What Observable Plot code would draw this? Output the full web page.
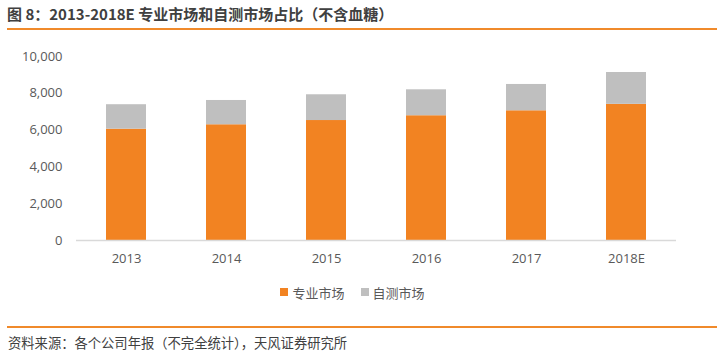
<!DOCTYPE html>
<html>
<head>
<meta charset="utf-8">
<script src="https://cdn.jsdelivr.net/npm/d3@7"></script>
<script src="https://cdn.jsdelivr.net/npm/@observablehq/plot@0.6"></script>
<style>
  html, body { margin: 0; padding: 0; background: #fff; }
  body { width: 717px; height: 358px; overflow: hidden; font-family: "Open Sans", "Noto Sans CJK SC", sans-serif; color: #595959; }
  #title { margin-left: 7px; height: 28px; line-height: 28px; font-size: 15px; font-weight: bold; color: #404040; border-bottom: 2px solid #F08A2B; font-family: "Noto Sans CJK SC", sans-serif; white-space: nowrap; }
  #chart { height: 245px; }
  #legend { height: 34px; display: flex; justify-content: center; align-items: center; font-size: 13px; font-family: "Noto Sans CJK SC", sans-serif; color: #595959; padding-right: 12px; box-sizing: border-box; }
  #legend span.sw { display: inline-block; width: 8px; height: 8px; margin-right: 4px; }
  #legend .item { display: flex; align-items: center; margin: 0 8px; }
  #footer { margin-left: 7px; margin-top: 17px; border-top: 2px solid #F08A2B; height: 30px; line-height: 30px; font-size: 13.3px; color: #404040; font-family: "Noto Sans CJK SC", sans-serif; white-space: nowrap; padding-left: 1px; }
</style>
</head>
<body>
<div id="title">图 8：2013-2018E 专业市场和自测市场占比（不含血糖）</div>
<div id="chart"></div>
<div id="legend"></div>
<div id="footer">资料来源：各个公司年报（不完全统计），天风证券研究所</div>
<script>
const years = ["2013", "2014", "2015", "2016", "2017", "2018E"];
const seriesNames = ["专业市场", "自测市场"];
const professional = [6050, 6290, 6520, 6780, 7050, 7400];
const selfTest = [1330, 1320, 1400, 1410, 1430, 1730];
const yTicks = [0, 2000, 4000, 6000, 8000, 10000];
const colors = ["#F28322", "#BFBFBF"];

const data = [];
years.forEach((y, i) => {
  data.push({year: y, series: seriesNames[0], value: professional[i]});
  data.push({year: y, series: seriesNames[1], value: selfTest[i]});
});

const plot = Plot.plot({
  width: 717,
  height: 245,
  marginTop: 26,
  marginBottom: 35,
  marginLeft: 76,
  marginRight: 41,
  style: {fontFamily: "'Open Sans', 'Noto Sans CJK SC', sans-serif", fontSize: "13px", color: "#595959", background: "#fff"},
  x: {domain: years, paddingInner: 0.6, paddingOuter: 0.3, label: null},
  y: {domain: [0, 10000], label: null},
  color: {domain: seriesNames, range: colors},
  marks: [
    Plot.barY(data, Plot.stackY({x: "year", y: "value", fill: "series", order: seriesNames})),
    Plot.ruleY([0], {stroke: "#D9D9D9", strokeWidth: 1.5}),
    Plot.axisY({ticks: yTicks, tickSize: 0, tickPadding: 14, tickFormat: d3.format(","), label: null, fill: "#595959"}),
    Plot.axisX({tickSize: 0, tickPadding: 13, label: null, fill: "#595959"})
  ]
});
document.getElementById("chart").appendChild(plot);

const legend = document.getElementById("legend");
seriesNames.forEach((name, i) => {
  const item = document.createElement("div");
  item.className = "item";
  const sw = document.createElement("span");
  sw.className = "sw";
  sw.style.background = colors[i];
  item.appendChild(sw);
  item.appendChild(document.createTextNode(name));
  legend.appendChild(item);
});
</script>
</body>
</html>
